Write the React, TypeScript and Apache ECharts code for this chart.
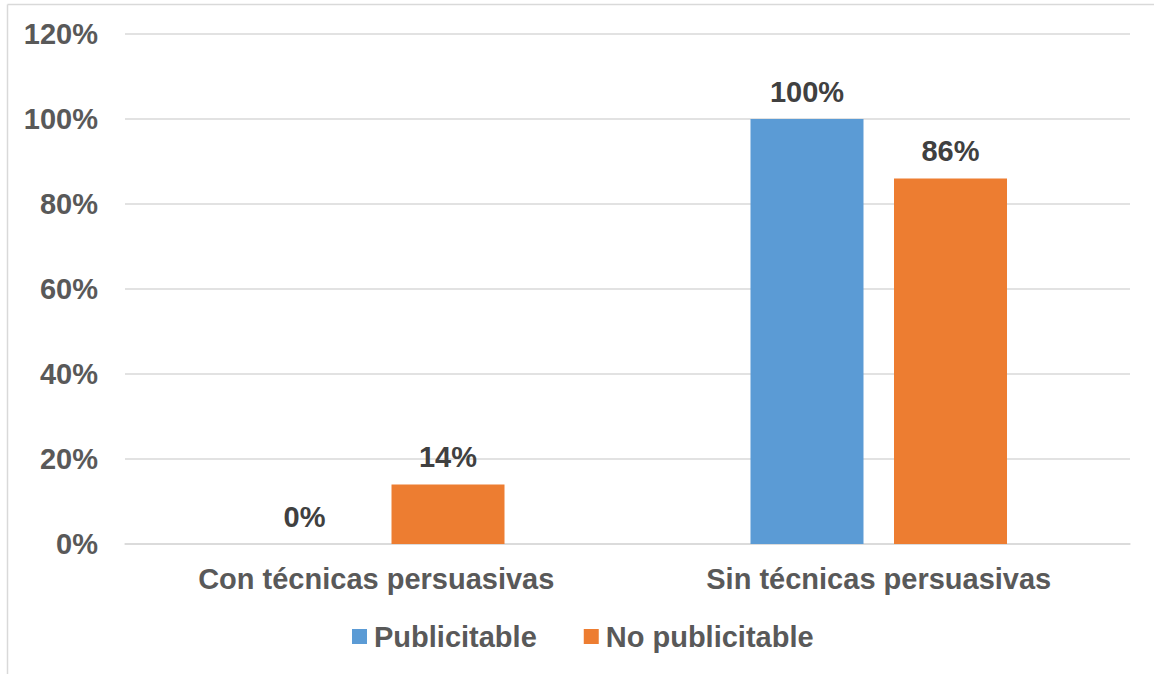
import React, { useEffect, useRef } from "react";
import * as echarts from "echarts";

// Share of pieces per category (percent)
const categories = ["Con técnicas persuasivas", "Sin técnicas persuasivas"];
const seriesNames = ["Publicitable", "No publicitable"];
const publicitable = [0, 100];
const noPublicitable = [14, 86];
const yTicks = { min: 0, max: 120, interval: 20 };

const FONT = "'Liberation Sans', Arial, sans-serif";
const BLUE = "#5b9bd5";
const ORANGE = "#ed7d31";
const AXIS_TEXT = "#595959";
const LABEL_TEXT = "#404040";
const GRID = "#d9d9d9";

export default function App() {
  const ref = useRef<HTMLDivElement>(null);

  useEffect(() => {
    if (!ref.current) return;
    const chart = echarts.init(ref.current, null, { renderer: "svg" });

    const dataLabel = {
      show: true,
      position: "top",
      distance: 13,
      formatter: "{c}%",
      color: LABEL_TEXT,
      fontFamily: FONT,
      fontWeight: "bold",
      fontSize: 29,
    };

    chart.setOption({
      animation: false,
      backgroundColor: "#ffffff",
      textStyle: { fontFamily: FONT },
      grid: { left: 125, right: 24, top: 34, bottom: 130, containLabel: false },
      graphic: [
        {
          type: "line",
          shape: { x1: 7.5, y1: 4.5, x2: 1154, y2: 4.5 },
          style: { stroke: GRID, lineWidth: 1.5 },
        },
        {
          type: "line",
          shape: { x1: 7.5, y1: 4.5, x2: 7.5, y2: 674 },
          style: { stroke: GRID, lineWidth: 1.5 },
        },
      ],
      legend: {
        left: 352,
        top: 622,
        padding: 0,
        itemWidth: 15,
        itemHeight: 15,
        itemGap: 47,
        icon: "rect",
        data: seriesNames,
        textStyle: {
          color: AXIS_TEXT,
          fontFamily: FONT,
          fontWeight: "bold",
          fontSize: 29,
          padding: [0, 0, 0, 2],
        },
      },
      xAxis: {
        type: "category",
        data: categories,
        axisTick: { show: false },
        axisLine: { show: true, lineStyle: { color: GRID, width: 1.5 } },
        axisLabel: {
          color: AXIS_TEXT,
          fontFamily: FONT,
          fontWeight: "bold",
          fontSize: 29,
          margin: 20,
        },
      },
      yAxis: {
        type: "value",
        min: yTicks.min,
        max: yTicks.max,
        interval: yTicks.interval,
        axisLine: { show: false },
        axisTick: { show: false },
        splitLine: { lineStyle: { color: GRID, width: 1.5 } },
        axisLabel: {
          formatter: "{value}%",
          color: AXIS_TEXT,
          fontFamily: FONT,
          fontWeight: "bold",
          fontSize: 29,
          margin: 27,
        },
      },
      series: [
        {
          name: seriesNames[0],
          type: "bar",
          data: publicitable,
          barWidth: 113,
          barGap: "27%",
          itemStyle: { color: BLUE },
          label: dataLabel,
        },
        {
          name: seriesNames[1],
          type: "bar",
          data: noPublicitable,
          barWidth: 113,
          barGap: "27%",
          itemStyle: { color: ORANGE },
          label: dataLabel,
        },
      ],
    });

    return () => chart.dispose();
  }, []);

  return (
    <div
      ref={ref}
      style={{ position: "absolute", left: 0, top: 0, width: 1154, height: 674 }}
    />
  );
}
